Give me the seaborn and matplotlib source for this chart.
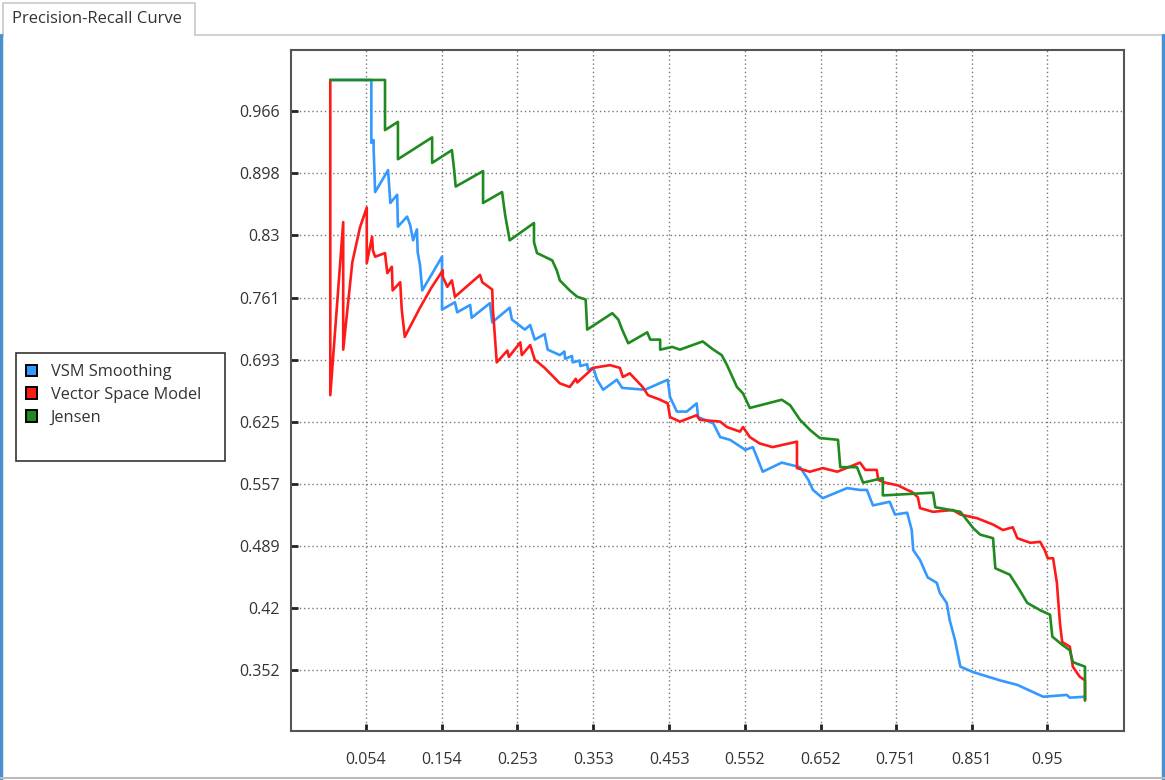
import numpy as np
import pandas as pd
import matplotlib
matplotlib.use('Agg')
import matplotlib.pyplot as plt
import seaborn as sns
from matplotlib.patches import Rectangle, Patch
from matplotlib.lines import Line2D

# --- data ---
series_names = ['VSM Smoothing', 'Vector Space Model', 'Jensen']
series_colors = ['#3399ff', '#ff1a1a', '#1f8a1f']

vsm_recall = [0.007, 0.061, 0.061, 0.064, 0.064, 0.066, 0.083, 0.086, 0.095, 0.096, 0.108, 0.112, 0.116,
              0.121, 0.122, 0.125, 0.128, 0.154, 0.154, 0.171, 0.174, 0.191, 0.193, 0.217, 0.220, 0.243,
              0.246, 0.263, 0.270, 0.276, 0.289, 0.293, 0.309, 0.315, 0.316, 0.325, 0.326, 0.335, 0.336,
              0.345, 0.346, 0.353, 0.358, 0.366, 0.384, 0.391,
              0.421, 0.451, 0.454, 0.463, 0.476, 0.489, 0.491, 0.511, 0.520, 0.533, 0.553, 0.563, 0.576,
              0.601, 0.625, 0.636, 0.642, 0.655, 0.687, 0.704, 0.713, 0.721, 0.743, 0.750, 0.766, 0.772,
              0.774, 0.783, 0.793, 0.805, 0.809, 0.818, 0.822, 0.829, 0.836, 0.853, 0.888, 0.911, 0.945,
              0.976, 0.980, 1.000]
vsm_precision = [1.000, 1.000, 0.931, 0.934, 0.925, 0.877, 0.901, 0.865, 0.874, 0.839, 0.850, 0.841, 0.824,
                 0.836, 0.811, 0.797, 0.769, 0.806, 0.748, 0.756, 0.745, 0.753, 0.739, 0.755, 0.734, 0.750,
                 0.737, 0.726, 0.731, 0.715, 0.721, 0.704, 0.698, 0.702, 0.694, 0.697, 0.690, 0.692, 0.686,
                 0.688, 0.682, 0.684, 0.671, 0.660, 0.671, 0.662,
                 0.660, 0.671, 0.652, 0.636, 0.636, 0.645, 0.630, 0.623, 0.608, 0.605, 0.594, 0.597, 0.570,
                 0.580, 0.575, 0.561, 0.550, 0.541, 0.552, 0.550, 0.550, 0.533, 0.537, 0.523, 0.525, 0.506,
                 0.484, 0.473, 0.454, 0.448, 0.437, 0.426, 0.407, 0.385, 0.356, 0.350, 0.341, 0.336, 0.323,
                 0.325, 0.322, 0.323]

vsm_model_recall = [0.007, 0.007, 0.024, 0.024, 0.036, 0.046, 0.055, 0.055, 0.062, 0.063, 0.066, 0.079, 0.082,
                    0.088, 0.089, 0.099, 0.101, 0.105, 0.125, 0.140, 0.155, 0.155, 0.161, 0.167, 0.171, 0.204,
                    0.207, 0.220, 0.221, 0.226, 0.240, 0.242, 0.257, 0.259, 0.270, 0.276, 0.289, 0.309, 0.322,
                    0.330, 0.332, 0.353, 0.375, 0.388, 0.392,
                    0.401, 0.418, 0.425, 0.441, 0.451, 0.454, 0.467, 0.489, 0.493, 0.520, 0.529, 0.546, 0.550,
                    0.559, 0.572, 0.589, 0.621, 0.621, 0.638, 0.655, 0.674, 0.704, 0.711, 0.726, 0.728, 0.737,
                    0.754, 0.766, 0.772, 0.780, 0.783, 0.800, 0.826, 0.836, 0.858, 0.879, 0.892, 0.905, 0.911,
                    0.928, 0.941, 0.947, 0.951, 0.958, 0.963, 0.967, 0.970, 0.980, 0.984, 0.993, 1.000, 1.000]
vsm_model_precision = [1.000, 0.654, 0.844, 0.704, 0.800, 0.838, 0.860, 0.799, 0.828, 0.813, 0.806, 0.810, 0.788,
                       0.795, 0.769, 0.778, 0.748, 0.718, 0.750, 0.772, 0.791, 0.784, 0.773, 0.780, 0.762, 0.786,
                       0.778, 0.770, 0.748, 0.690, 0.703, 0.696, 0.712, 0.698, 0.709, 0.693, 0.684, 0.667, 0.663,
                       0.672, 0.668, 0.684, 0.687, 0.684, 0.674,
                       0.678, 0.663, 0.654, 0.649, 0.645, 0.630, 0.625, 0.632, 0.627, 0.625, 0.619, 0.614, 0.619,
                       0.608, 0.601, 0.597, 0.603, 0.574, 0.570, 0.574, 0.570, 0.580, 0.572, 0.572, 0.561, 0.558,
                       0.555, 0.550, 0.548, 0.542, 0.530, 0.526, 0.528, 0.523, 0.519, 0.512, 0.506, 0.509, 0.497,
                       0.492, 0.493, 0.484, 0.475, 0.475, 0.448, 0.404, 0.383, 0.378, 0.356, 0.345, 0.341, 0.319]

jensen_recall = [0.007, 0.079, 0.079, 0.096, 0.096, 0.141, 0.141, 0.167, 0.170, 0.172, 0.208, 0.208, 0.233,
                 0.237, 0.243, 0.275, 0.275, 0.279, 0.299, 0.305, 0.309, 0.322, 0.332, 0.343, 0.345, 0.378,
                 0.386, 0.391, 0.399, 0.424, 0.428, 0.441, 0.441, 0.457, 0.467, 0.497, 0.511, 0.522, 0.529,
                 0.542, 0.550, 0.559, 0.601, 0.612, 0.625, 0.638, 0.651, 0.675, 0.678, 0.700, 0.708, 0.734,
                 0.734, 0.800, 0.803, 0.836, 0.853, 0.862, 0.879, 0.882, 0.901, 0.914, 0.924, 0.941, 0.954,
                 0.957, 0.970, 0.980, 0.984, 1.000, 1.000]
jensen_precision = [1.000, 1.000, 0.945, 0.954, 0.913, 0.937, 0.909, 0.923, 0.901, 0.883, 0.900, 0.865, 0.877,
                    0.852, 0.824, 0.843, 0.822, 0.810, 0.802, 0.791, 0.780, 0.769, 0.762, 0.759, 0.726, 0.744,
                    0.737, 0.726, 0.711, 0.723, 0.715, 0.715, 0.704, 0.707, 0.704, 0.713, 0.704, 0.698, 0.687,
                    0.663, 0.656, 0.640, 0.649, 0.643, 0.627, 0.616, 0.607, 0.605, 0.575, 0.575, 0.558, 0.563,
                    0.544, 0.547, 0.531, 0.526, 0.508, 0.501, 0.497, 0.464, 0.457, 0.440, 0.426, 0.418, 0.413,
                    0.389, 0.380, 0.374, 0.361, 0.356, 0.319]

x_ticks = [0.054, 0.154, 0.253, 0.353, 0.453, 0.552, 0.652, 0.751, 0.851, 0.95]
x_tick_labels = ['0.054', '0.154', '0.253', '0.353', '0.453', '0.552', '0.652', '0.751', '0.851', '0.95']
y_ticks = [0.352, 0.42, 0.489, 0.557, 0.625, 0.693, 0.761, 0.83, 0.898, 0.966]
y_tick_labels = ['0.352', '0.42', '0.489', '0.557', '0.625', '0.693', '0.761', '0.83', '0.898', '0.966']

frames = []
for name, r, p in [(series_names[0], vsm_recall, vsm_precision),
                   (series_names[1], vsm_model_recall, vsm_model_precision),
                   (series_names[2], jensen_recall, jensen_precision)]:
    d = pd.DataFrame({'Recall': r, 'Precision': p})
    d['Model'] = name
    frames.append(d)
df = pd.concat(frames, ignore_index=True)

sns.set_style('white')
plt.rcParams['font.family'] = ['Open Sans', 'DejaVu Sans']

W, H = 1165, 780
fig = plt.figure(figsize=(W / 100, H / 100), dpi=100)
fig.patch.set_facecolor('white')

def fx(px):
    return px / W

def fy(py):
    return 1 - py / H

ax = fig.add_axes([fx(291), fy(731), fx(1124) - fx(291), fy(50) - fy(731)])

for name, col in zip(series_names, series_colors):
    sns.lineplot(data=df[df['Model'] == name], x='Recall', y='Precision', sort=False,
                 estimator=None, color=col, linewidth=1.9, ax=ax)

ax.set_xlim(-0.0447, 1.0513)
ax.set_ylim(0.2854, 1.0329)
ax.set_xticks(x_ticks)
ax.set_xticklabels(x_tick_labels)
ax.set_yticks(y_ticks)
ax.set_yticklabels(y_tick_labels)
ax.set_xlabel('')
ax.set_ylabel('')
ax.grid(True, color='#777777', linestyle=(0, (1, 2)), linewidth=1.0)
ax.set_axisbelow(True)
ax.tick_params(bottom=True, left=True, direction='in', length=5, width=2, color='#222222',
               labelsize=11.5, labelcolor='#333333', pad=8)
ax.tick_params(axis='x', pad=15)
for s in ax.spines.values():
    s.set_color('#555555')
    s.set_linewidth(1.5)
    s.set_visible(True)

# legend box
fig.patches.append(Rectangle((fx(16), fy(461)), fx(225) - fx(16), fy(353) - fy(461),
                             transform=fig.transFigure, fill=False, edgecolor='#333333', lw=1.2))
handles = [Patch(facecolor=c, edgecolor='black', linewidth=1.4) for c in series_colors]
fig.legend(handles=handles, labels=series_names, loc='upper left',
           bbox_to_anchor=(fx(26), fy(364)), frameon=False, handlelength=0.7, handleheight=0.7,
           handletextpad=0.8, labelspacing=0.42, fontsize=11.8, labelcolor='#333333',
           borderaxespad=0, borderpad=0)

# window chrome: tab header and borders
fig.add_artist(Line2D([fx(195), fx(1165)], [fy(35), fy(35)], color='#c8c8c8', lw=1.2))
fig.add_artist(Line2D([fx(3), fx(3), fx(195), fx(195)], [fy(36), fy(3), fy(3), fy(35)],
                      color='#c8c8c8', lw=1.2))
fig.add_artist(Line2D([fx(1), fx(1)], [fy(35), fy(780)], color='#4a90d0', lw=2.5))
fig.add_artist(Line2D([fx(1163), fx(1163)], [fy(35), fy(780)], color='#4a90d0', lw=2.5))
fig.add_artist(Line2D([fx(0), fx(1165)], [fy(778), fy(778)], color='#bbbbbb', lw=1.5))
fig.text(fx(12), fy(19), 'Precision-Recall Curve', fontsize=12, color='#333333', va='center', ha='left')

fig.savefig('out.png', dpi=100)
